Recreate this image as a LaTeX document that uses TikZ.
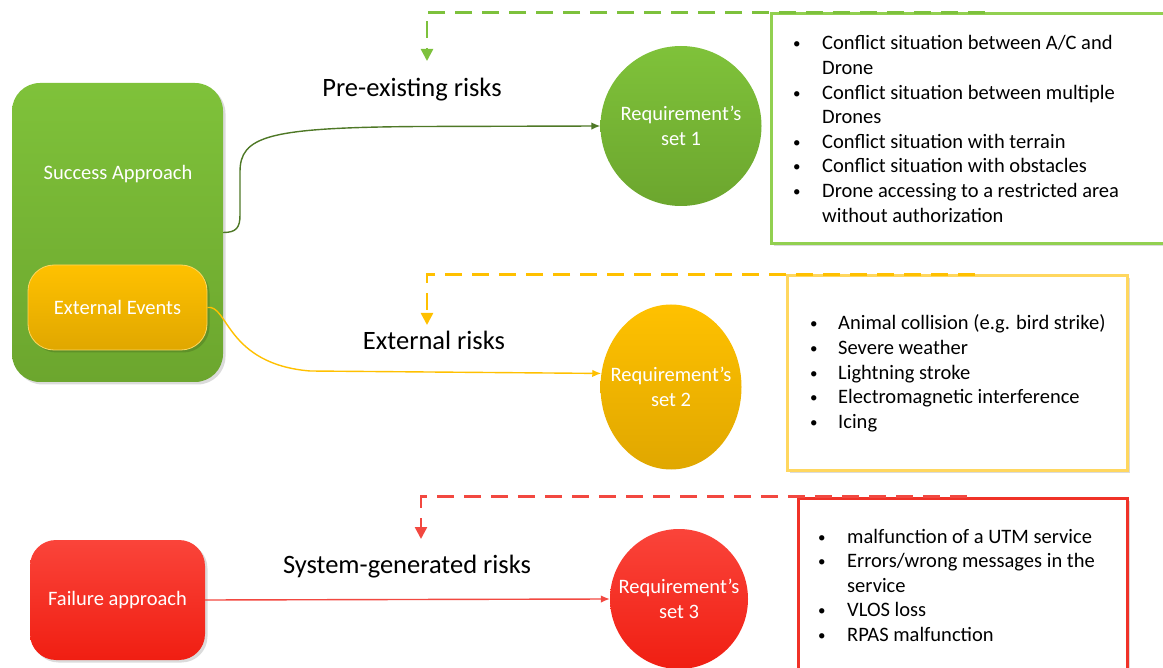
\documentclass[tikz,border=0pt]{standalone}
\usepackage{fontspec}
\setmainfont{Carlito}
\usetikzlibrary{shapes.geometric,arrows.meta,shadows}
\definecolor{gTop}{RGB}{127,194,58}
\definecolor{gBot}{RGB}{108,166,46}
\definecolor{oTop}{RGB}{255,193,0}
\definecolor{oBot}{RGB}{224,167,0}
\definecolor{rTop}{RGB}{250,68,58}
\definecolor{rBot}{RGB}{240,30,18}
\definecolor{gLine}{RGB}{78,120,38}
\definecolor{gDash}{RGB}{125,193,60}
\definecolor{gBorder}{RGB}{146,208,80}
\definecolor{oLine}{RGB}{255,192,0}
\definecolor{oBorder}{RGB}{255,215,95}
\definecolor{rLine}{RGB}{242,72,64}
\definecolor{rBorder}{RGB}{240,50,40}
\newcommand{\bul}{\raisebox{1pt}{\fontsize{15}{15}\selectfont •}}
\begin{document}
\begin{tikzpicture}[x=1pt,y=-1pt,
  body/.style={font=\fontsize{20.5}{24.6}\selectfont},
  wtext/.style={body,text=white,align=center,inner sep=0pt},
  lbl/.style={font=\fontsize{26.5}{30}\selectfont,inner sep=0pt},
  shd/.style={drop shadow={shadow xshift=2.5pt,shadow yshift=-2.5pt,fill=black,opacity=0.14}},
  gshade/.style={top color=gTop,bottom color=gBot},
  oshade/.style={top color=oTop,bottom color=oBot},
  rshade/.style={top color=rTop,bottom color=rBot},
  rbox/.style={rectangle,rounded corners=26pt,shd,inner sep=0pt},
  circ/.style={ellipse,inner sep=0pt},
  listbox/.style={rectangle,fill=white,line width=3pt,shd,inner sep=0pt},
  bullets/.style={body,anchor=base west,inner sep=0pt,align=left},
  dashline/.style={line width=2.5pt,dash pattern=on 17pt off 10pt,-{Triangle[length=12pt,width=12pt]}},
  conn/.style={line width=1.4pt,-{Latex[length=9pt,width=7.5pt]}}
]
\clip (0,0) rectangle (1163,668);

% left boxes
\node[rbox,gshade,minimum width=211pt,minimum height=299pt,rounded corners=28pt] (succ) at (117.5,232.5) {};
\node[wtext] (succlbl) at (118,174) {Success Approach};
\node[rbox,oshade,draw=oBorder,line width=0.8pt,minimum width=179pt,minimum height=85pt,wtext] (ext) at (117.5,307.5) {External Events};
\node[rbox,rshade,minimum width=175pt,minimum height=120pt,wtext] (fail) at (117.5,600) {Failure approach};

% circles
\node[circ,gshade,minimum width=161pt,minimum height=160pt,label={[wtext]center:Requirement’s\\set 1}] (c1) at (681,126) {};
\node[circ,oshade,minimum width=141pt,minimum height=165pt,label={[wtext]center:Requirement’s\\set 2}] (c2) at (671,387) {};
\node[circ,rshade,minimum width=138pt,minimum height=140pt,label={[wtext]center:Requirement’s\\set 3}] (c3) at (679,599) {};

% list boxes
\node[listbox,draw=gBorder,minimum width=400pt,minimum height=230pt] (b1) at (971,129) {};
\node[listbox,draw=oBorder,minimum width=340pt,minimum height=194pt] (b2) at (957,373) {};
\node[listbox,draw=rBorder,minimum width=329pt,minimum height=184pt] (b3) at (962.5,590) {};

\node[bullets] (t1) at (793,50) {\begin{tabular}[t]{@{}p{29pt}@{}l@{}}
\bul& Conflict situation between A/C and\\
 & Drone\\
\bul& Conflict situation between multiple\\
 & Drones\\
\bul& Conflict situation with terrain\\
\bul& Conflict situation with obstacles\\
\bul& Drone accessing to a restricted area\\
 & without authorization
\end{tabular}};
\node[bullets] (t2) at (810,330) {\begin{tabular}[t]{@{}p{28pt}@{}l@{}}
\bul& Animal collision (e.g. bird strike)\\
\bul& Severe weather\\
\bul& Lightning stroke\\
\bul& Electromagnetic interference\\
\bul& Icing
\end{tabular}};
\node[bullets] (t3) at (818,543) {\begin{tabular}[t]{@{}p{29pt}@{}l@{}}
\bul& malfunction of a UTM service\\
\bul& Errors/wrong messages in the\\
 & service\\
\bul& VLOS loss\\
\bul& RPAS malfunction
\end{tabular}};

% risk labels
\node[lbl] (l1) at (412,90) {Pre-existing risks};
\node[lbl] (l2) at (434,340) {External risks};
\node[lbl] (l3) at (407,567) {System-generated risks};

% dashed connectors
\coordinate (a1) at (427,61);
\coordinate (a2) at (427,325);
\coordinate (a3) at (421,539);
\draw[dashline,draw=gDash] ([xshift=14pt]b1.north) -| (a1);
\draw[dashline,draw=oLine] ([xshift=18pt]b2.north) -| (a2);
\draw[dashline,draw=rLine] ([xshift=4pt]b3.north) -| (a3);

% solid connectors
\draw[conn,draw=gLine] (succ.east) .. controls (236,232.5) and (240,228) .. (240,215) -- (240,172) .. controls (240,136) and (268,127.5) .. (420,126.5) -- (c1.west);
\draw[conn,draw=oLine] (ext.east) .. controls (228,304) and (226,364) .. (310,371) -- (c2.169);
\draw[conn,draw=rLine] (fail.east) -- (c3.west);
\end{tikzpicture}
\end{document}
